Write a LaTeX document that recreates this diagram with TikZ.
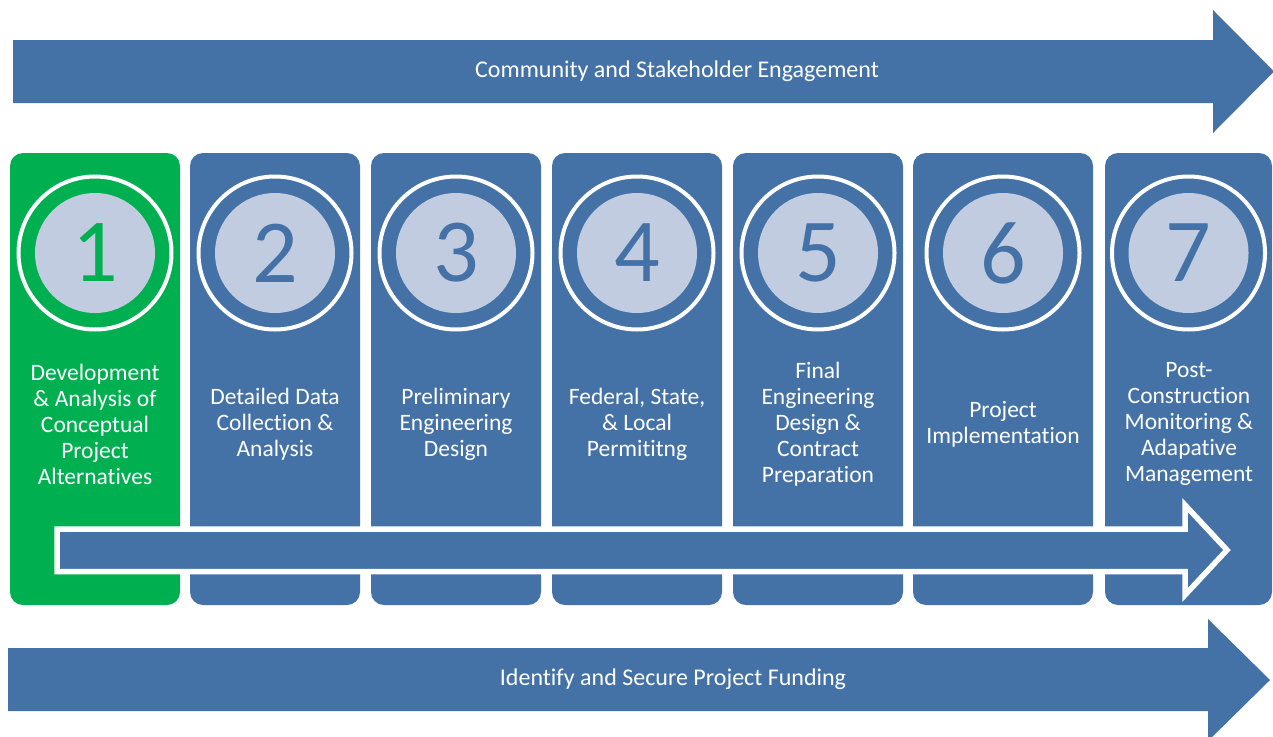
\documentclass[tikz,border=0pt]{standalone}
\usepackage{fontspec}
\setmainfont{Carlito}[Ligatures=NoCommon]
\definecolor{stepblue}{RGB}{68,114,167}
\definecolor{stepgreen}{RGB}{0,176,80}
\definecolor{disc}{RGB}{193,204,225}
\tikzset{
  column/.style={rounded corners=13pt, inner sep=0pt, minimum height=452pt},
  ring/.style={circle, draw=white, line width=4pt, minimum size=153pt, inner sep=0pt},
  numdisc/.style={circle, fill=disc, minimum size=120pt, inner sep=0pt, font=\fontsize{90}{90}\selectfont},
  steptext/.style={align=center, text=white, font=\fontsize{23.5}{26}\selectfont},
  bandtext/.style={text=white, font=\fontsize{24}{28}\selectfont},
  band/.style={fill=stepblue}
}
\begin{document}
\begin{tikzpicture}[x=1pt,y=-1pt]
\useasboundingbox (0,0) rectangle (1273,736);
\clip (0,0) rectangle (1273,736);
\fill[white] (0,0) rectangle (1273,736);

% top band arrow
\fill[band] (13,40) -- (1213,40) -- (1213,10) -- (1274,71.5) -- (1213,133) -- (1213,103) -- (13,103) -- cycle;
\node[bandtext] (engage) at (677,71) {Community and Stakeholder Engagement};

% step columns
\foreach \i/\cx/\w/\col in {1/95/170/stepgreen, 2/275/170/stepblue, 3/456/170/stepblue, 4/637/170/stepblue, 5/818/170/stepblue, 6/1003/180/stepblue, 7/1188.5/167/stepblue}{
  \node[column, fill=\col, minimum width=\w pt] (c\i) at (\cx,379) {};
  \node[ring] (r\i) at (\cx,253) {};
  \node[numdisc, text=\col] (n\i) at (\cx,253) {\i};
}

% step labels
\node[steptext] (t1) at (95,424) {Development\\\& Analysis of\\Conceptual\\Project\\Alternatives};
\node[steptext] (t2) at (275,424) {Detailed Data\\Collection \&\\Analysis};
\node[steptext] (t3) at (456,424) {Preliminary\\Engineering\\Design};
\node[steptext] (t4) at (637,424) {Federal, State,\\\& Local\\Permititng};
\node[steptext] (t5) at (818,424) {Final\\Engineering\\Design \&\\Contract\\Preparation};
\node[steptext] (t6) at (1003,424) {Project\\Implementation};
\node[steptext] (t7) at (1189,424) {Post-\\Construction\\Monitoring \&\\Adapative\\Management};

% progress arrow across the columns
\filldraw[fill=stepblue, draw=white, line width=5.5pt, miter limit=4]
  (57,529) -- (1185,529) -- (1185,505) -- (1227,550) -- (1185,595) -- (1185,571.5) -- (57,571.5) -- cycle;

% bottom band arrow
\fill[band] (8,648) -- (1208,648) -- (1208,619) -- (1270,680) -- (1208,741) -- (1208,711) -- (8,711) -- cycle;
\node[bandtext] (fund) at (673,679) {Identify and Secure Project Funding};
\end{tikzpicture}
\end{document}
